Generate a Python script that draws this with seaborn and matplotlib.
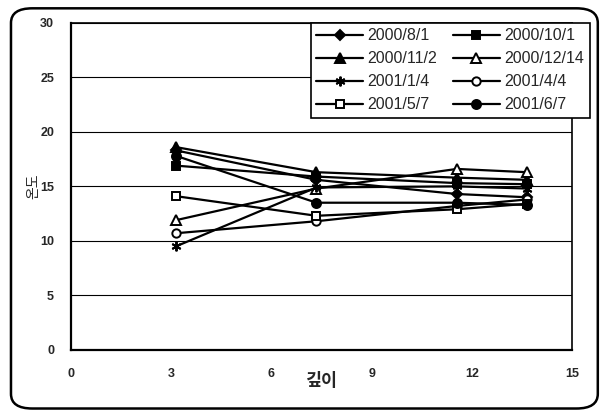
import matplotlib
matplotlib.use("Agg")
import matplotlib.pyplot as plt
import seaborn as sns
import pandas as pd
from matplotlib.patches import FancyBboxPatch

depths = [3.15, 7.35, 11.55, 13.65]
dates = ["2000/8/1", "2000/10/1", "2000/11/2", "2000/12/14",
         "2001/1/4", "2001/4/4", "2001/5/7", "2001/6/7"]
t_20000801 = [18.3, 15.6, 14.3, 14.0]
t_20001001 = [16.9, 15.9, 15.3, 15.2]
t_20001102 = [18.6, 16.3, 15.8, 15.6]
t_20001214 = [11.9, 14.8, 16.6, 16.3]
t_20010104 = [9.5, 14.9, 15.0, 14.8]
t_20010404 = [10.7, 11.8, 13.2, 13.8]
t_20010507 = [14.1, 12.3, 12.9, 13.4]
t_20010607 = [17.8, 13.5, 13.5, 13.3]
series = [t_20000801, t_20001001, t_20001102, t_20001214,
          t_20010104, t_20010404, t_20010507, t_20010607]
xticks = [0, 3, 6, 9, 12, 15]
yticks = [0, 5, 10, 15, 20, 25, 30]

styles = {
    "2000/8/1": dict(marker="D", mfc="black", ms=5.5),
    "2000/10/1": dict(marker="s", mfc="black", ms=6),
    "2000/11/2": dict(marker="^", mfc="black", ms=6.5),
    "2000/12/14": dict(marker="^", mfc="white", ms=6.5),
    "2001/1/4": dict(marker=(6, 2, 0), mfc="black", ms=7),
    "2001/4/4": dict(marker="o", mfc="white", ms=6),
    "2001/5/7": dict(marker="s", mfc="white", ms=6),
    "2001/6/7": dict(marker="o", mfc="black", ms=6.5),
}

sns.set_theme(style="white")
plt.rcParams["font.family"] = ["Liberation Sans", "Noto Sans CJK KR", "DejaVu Sans"]

fig = plt.figure(figsize=(6.1, 4.16), dpi=100, facecolor="white")
border = FancyBboxPatch((0.018, 0.018), 0.962, 0.962, boxstyle="round,pad=0,rounding_size=0.035",
                        transform=fig.transFigure, facecolor="none", edgecolor="black",
                        linewidth=1.8, zorder=10)
fig.patches.append(border)
ax = fig.add_axes([0.116, 0.159, 0.822, 0.786])
ax.set_facecolor("white")

handles = {}
for d, vals in zip(dates, series):
    df = pd.DataFrame({"depth": depths, "temp": vals})
    st = styles[d]
    sns.lineplot(data=df, x="depth", y="temp", ax=ax, color="black", linewidth=1.6,
                 marker=st["marker"], markersize=st["ms"], markerfacecolor=st["mfc"],
                 markeredgecolor="black", markeredgewidth=1.4, sort=False, zorder=3)
    handles[d] = ax.get_lines()[-1]

ax.set_xlim(0, 15)
ax.set_ylim(0, 30)
ax.set_xticks(xticks)
ax.set_yticks(yticks)
ax.set_xticklabels([str(v) for v in xticks], fontsize=9, fontweight="bold")
ax.set_yticklabels([str(v) for v in yticks], fontsize=9, fontweight="bold")
ax.yaxis.grid(True, color="black", linewidth=0.8)
ax.xaxis.grid(False)
ax.tick_params(axis="x", direction="in", length=3, width=1, color="black", pad=13)
ax.tick_params(axis="y", length=0, pad=12)
for s in ax.spines.values():
    s.set_color("black")
    s.set_linewidth(1.2)
ax.spines["left"].set_linewidth(1.6)
ax.spines["bottom"].set_linewidth(1.6)

ax.set_xlabel("깊이", fontsize=12.5, fontweight="bold",
              family=["Noto Sans CJK KR", "DejaVu Sans"], labelpad=-6)
ax.set_ylabel("온도", fontsize=10, family=["Noto Sans CJK KR", "DejaVu Sans"], labelpad=0)

order = ["2000/8/1", "2000/11/2", "2001/1/4", "2001/5/7",
         "2000/10/1", "2000/12/14", "2001/4/4", "2001/6/7"]
leg = ax.legend([handles[d] for d in order], order, ncol=2, loc="upper right",
                bbox_to_anchor=(0.967, 0.945), bbox_transform=fig.transFigure,
                fontsize=11.5, frameon=True, fancybox=False, framealpha=1,
                edgecolor="black", handlelength=2.9, handletextpad=0.3,
                columnspacing=1.0, labelspacing=0.5, borderpad=0.35, borderaxespad=0)
leg.get_frame().set_linewidth(1.2)

fig.savefig("out.png", dpi=100)
